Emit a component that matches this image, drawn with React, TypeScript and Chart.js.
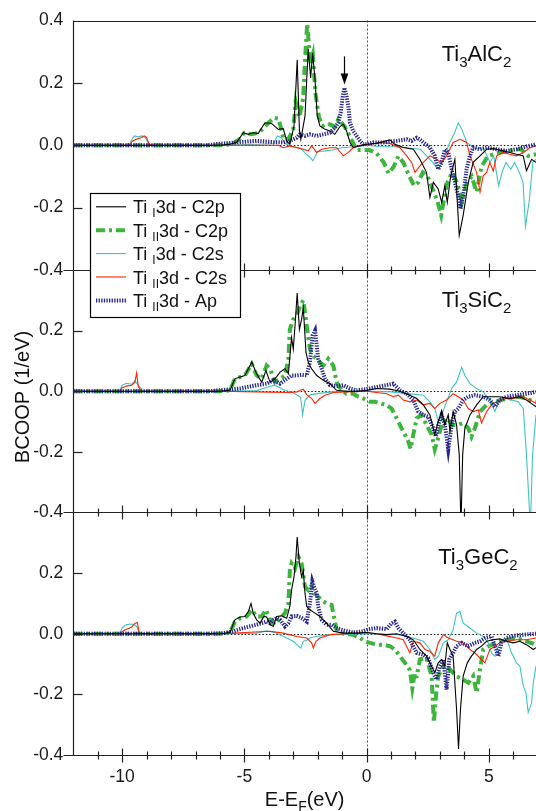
import React, { useEffect, useRef } from "react";
import { Chart, registerables } from "chart.js";

Chart.register(...registerables);

const FONT = '"Liberation Sans", Arial, Helvetica, sans-serif';

// ---------- axes ----------
const xMin = -12;
const xMax = 6.93;
const xTickValues = [-10, -5, 0, 5];
const xMinorTicks = [-11, -10, -9, -8, -7, -6, -5, -4, -3, -2, -1, 0, 1, 2, 3, 4, 5, 6];
const yTicksTop = [-0.4, -0.2, 0, 0.2, 0.4];
const yTicksLower = [-0.4, -0.2, 0, 0.2];
const yInnerTicks = [-0.2, 0, 0.2];

// ---------- series meta ----------
const seriesSub = ["I", "II", "I", "II", "II"];
const seriesTail = ["3d - C2p", "3d - C2p", "3d - C2s", "3d - C2s", "3d - Ap"];
const seriesColor = ["#000000", "#3cb53c", "#3fc4c4", "#ff2200", "#26268f"];
const seriesWidth = [1.1, 4, 1.1, 1.1, 4];
const seriesDash = [[], [9, 4, 3, 4], [], [], [1.3, 1.3]];
const seriesOrder = [0, 4, 3, 2, 1];

// ---------- panels ----------
const panelAxis = ["yAl", "ySi", "yGe"];
const panelWeight = [250, 243, 243];
const panelLabel = [
  ["Ti", "3", "AlC", "2"],
  ["Ti", "3", "SiC", "2"],
  ["Ti", "3", "GeC", "2"],
];
const panelLabelE = [3.07, 3.07, 2.93];
const panelLabelV = [0.27, 0.277, 0.23];
const arrowE = -0.93;
const arrowTopV = 0.285;
const arrowTipV = 0.195;

// ---------- Ti3AlC2 ----------
const alTiIC2p = [[-12,0],[-6,0],[-5.6,0.003],[-5.32,0.009],[-5.04,0.04],[-4.84,0.035],[-4.64,0.04],[-4.43,0.038],[-4.16,0.072],[-3.89,0.07],[-3.61,0.051],[-3.41,0.053],[-3.27,0.014],[-3.14,0.003],[-2.97,0.062],[-2.84,0.274],[-2.75,0.05],[-2.69,0.019],[-2.52,0.094],[-2.39,0.31],[-2.29,0.216],[-2.21,0.296],[-2.11,0.21],[-2.02,0.094],[-1.91,0.062],[-1.7,0.051],[-1.5,0.046],[-1.3,0.035],[-1.09,0.06],[-0.95,0.067],[-0.82,0.046],[-0.68,0.009],[-0.55,-0.007],[-0.27,-0.002],[0,0.003],[0.41,0.006],[0.95,0.017],[1.16,0.003],[1.5,-0.007],[1.91,-0.013],[2.18,-0.045],[2.45,-0.087],[2.59,-0.167],[2.73,-0.119],[2.93,-0.14],[3.07,-0.183],[3.2,-0.13],[3.3,-0.183],[3.44,-0.098],[3.61,-0.045],[3.79,-0.289],[3.95,-0.225],[4.16,-0.119],[4.36,-0.055],[4.64,-0.034],[4.91,-0.013],[5.18,-0.011],[5.59,-0.018],[5.86,-0.023],[6.13,-0.029],[6.41,-0.034],[6.54,-0.082],[6.75,-0.045],[6.93,-0.055]];
const alTiIIC2p = [[-12,0],[-6,0],[-5.5,0.003],[-5.2,0.02],[-5.0,0.04],[-4.7,0.035],[-4.4,0.04],[-4.1,0.065],[-3.8,0.088],[-3.6,0.085],[-3.4,0.02],[-3.2,0.02],[-3.0,0.05],[-2.9,0.14],[-2.75,0.09],[-2.6,0.15],[-2.5,0.3],[-2.43,0.39],[-2.3,0.26],[-2.2,0.29],[-2.1,0.17],[-1.95,0.09],[-1.8,0.062],[-1.6,0.07],[-1.3,0.06],[-1.15,0.085],[-0.9,0.06],[-0.6,0.015],[-0.4,-0.015],[-0.2,-0.015],[0.1,-0.015],[0.4,-0.025],[0.7,-0.055],[0.9,-0.09],[1.1,-0.07],[1.3,-0.035],[1.5,-0.055],[1.75,-0.1],[1.95,-0.13],[2.1,-0.12],[2.3,-0.087],[2.5,-0.1],[2.7,-0.14],[2.9,-0.18],[3.05,-0.225],[3.15,-0.18],[3.3,-0.12],[3.5,-0.088],[3.7,-0.12],[3.9,-0.18],[4.1,-0.12],[4.3,-0.1],[4.5,-0.15],[4.7,-0.07],[4.95,-0.035],[5.2,-0.029],[5.5,-0.023],[5.9,-0.017],[6.3,-0.012],[6.6,-0.034],[6.93,-0.029]];
const alTiIC2s = [[-12,0],[-9.7,0],[-9.6,0.02],[-9.5,0.03],[-9.35,0.027],[-9.2,0.03],[-9.05,0.025],[-8.9,0.002],[-8.7,0],[-6,0],[-4.5,0.003],[-3.8,0.005],[-3.65,0.03],[-3.5,0.025],[-3.3,0.003],[-3.0,-0.005],[-2.7,-0.01],[-2.45,-0.03],[-2.3,-0.04],[-2.2,-0.05],[-2.0,-0.02],[-1.7,-0.018],[-1.4,-0.015],[-1.0,-0.008],[-0.5,-0.005],[0,0],[0.5,-0.004],[1.2,-0.005],[2.2,-0.013],[2.7,-0.055],[2.93,-0.077],[3.1,-0.055],[3.4,0.009],[3.6,0.04],[3.75,0.072],[3.9,0.05],[4.1,0.008],[4.4,-0.008],[4.8,-0.013],[5.05,-0.055],[5.2,-0.034],[5.4,-0.13],[5.55,-0.085],[5.7,-0.055],[5.9,-0.077],[6.05,-0.055],[6.25,-0.087],[6.4,-0.119],[6.5,-0.26],[6.65,-0.18],[6.8,-0.055],[6.93,-0.045]];
const alTiIIC2s = [[-12,0],[-9.7,0],[-9.6,0.012],[-9.4,0.02],[-9.2,0.025],[-9.1,0.03],[-9.0,0.025],[-8.9,0.002],[-8.7,0],[-6,0],[-3.6,0],[-3.41,-0.008],[-3.14,-0.002],[-2.85,-0.008],[-2.59,-0.013],[-2.39,-0.018],[-2.25,-0.002],[-2.04,-0.023],[-1.84,-0.013],[-1.5,-0.008],[-1.23,-0.008],[-0.95,-0.034],[-0.75,-0.023],[-0.55,-0.008],[-0.27,0],[0.14,0.003],[0.55,0.009],[0.95,0.006],[1.36,-0.008],[1.64,-0.034],[1.84,-0.055],[1.98,-0.087],[2.18,-0.066],[2.32,-0.055],[2.59,-0.034],[2.86,-0.045],[3.07,-0.055],[3.27,-0.034],[3.54,0.009],[3.82,0.019],[4.09,0.009],[4.23,-0.034],[4.5,-0.087],[4.64,-0.15],[4.77,-0.098],[4.91,-0.087],[5.04,-0.055],[5.18,-0.082],[5.32,-0.034],[5.59,-0.023],[5.86,-0.029],[6.13,-0.034],[6.41,-0.023],[6.68,-0.008],[6.93,-0.002]];
const alTiIIAp = [[-12,0],[-6.5,0],[-6.13,0.004],[-5.18,0.01],[-4.5,0.014],[-3.82,0.01],[-3.41,0.009],[-3.14,0.014],[-2.86,0.024],[-2.73,0.035],[-2.52,0.03],[-2.32,0.035],[-2.04,0.03],[-1.77,0.035],[-1.5,0.04],[-1.3,0.056],[-1.16,0.072],[-1.06,0.104],[-0.98,0.157],[-0.91,0.184],[-0.82,0.157],[-0.75,0.126],[-0.68,0.072],[-0.55,0.046],[-0.41,0.03],[-0.27,0.014],[-0.14,0.003],[0,0.003],[0.27,0.009],[0.68,0.009],[1.23,0.014],[1.64,0.019],[1.84,0.014],[2.05,0.024],[2.18,0.019],[2.32,0.009],[2.59,-0.007],[2.79,-0.034],[2.93,-0.077],[3.07,-0.055],[3.2,-0.013],[3.34,-0.023],[3.48,-0.077],[3.61,-0.119],[3.75,-0.162],[3.84,-0.204],[3.95,-0.162],[4.09,-0.077],[4.23,-0.034],[4.36,-0.007],[4.64,-0.013],[4.91,-0.007],[5.32,-0.013],[5.73,-0.018],[6.13,-0.013],[6.54,-0.004],[6.93,0.003]];

// ---------- Ti3SiC2 ----------
const siTiIC2p = [[-12,0],[-6,0],[-5.59,0.003],[-5.39,0.041],[-5.18,0.047],[-4.98,0.052],[-4.7,0.096],[-4.5,0.058],[-4.29,0.03],[-4.12,0.068],[-3.95,0.03],[-3.75,0.041],[-3.54,0.063],[-3.34,0.074],[-3.2,0.058],[-3.07,0.177],[-3.0,0.139],[-2.93,0.215],[-2.84,0.324],[-2.75,0.204],[-2.66,0.237],[-2.59,0.275],[-2.48,0.128],[-2.39,0.096],[-2.25,0.074],[-2.04,0.052],[-1.77,0.036],[-1.5,0.025],[-1.23,0.003],[-0.82,0],[-0.41,0],[0,0.003],[0.41,0.009],[0.95,0.007],[1.36,0],[1.77,-0.013],[2.05,-0.024],[2.32,-0.045],[2.59,-0.078],[2.79,-0.143],[2.93,-0.1],[3.07,-0.067],[3.2,-0.111],[3.34,-0.078],[3.41,-0.133],[3.54,-0.067],[3.68,-0.111],[3.79,-0.209],[3.86,-0.45],[3.93,-0.209],[4.02,-0.122],[4.23,-0.078],[4.5,-0.045],[4.77,-0.018],[5.04,-0.018],[5.45,-0.018],[5.86,-0.024],[6.27,-0.018],[6.54,-0.029],[6.82,-0.045],[6.93,-0.051]];
const siTiIIC2p = [[-12,0],[-6,0],[-5.59,0.003],[-5.39,0.041],[-4.98,0.052],[-4.7,0.09],[-4.5,0.052],[-4.29,0.041],[-4.09,0.085],[-3.95,0.074],[-3.75,0.03],[-3.54,0.041],[-3.34,0.052],[-3.2,0.107],[-3.14,0.204],[-3.0,0.237],[-2.86,0.248],[-2.73,0.28],[-2.59,0.3],[-2.52,0.258],[-2.43,0.204],[-2.32,0.139],[-2.18,0.117],[-2.04,0.107],[-1.91,0.096],[-1.77,0.085],[-1.57,0.107],[-1.36,0.085],[-1.23,0.03],[-1.02,0.003],[-0.82,-0.008],[-0.55,-0.008],[-0.34,-0.018],[-0.14,-0.024],[0.14,-0.035],[0.34,-0.035],[0.55,-0.04],[0.82,-0.045],[1.02,-0.057],[1.23,-0.089],[1.43,-0.122],[1.57,-0.143],[1.7,-0.165],[1.8,-0.19],[1.91,-0.143],[2.05,-0.089],[2.25,-0.078],[2.45,-0.111],[2.66,-0.143],[2.79,-0.192],[2.93,-0.154],[3.07,-0.111],[3.27,-0.089],[3.54,-0.111],[3.75,-0.111],[3.95,-0.105],[4.16,-0.122],[4.29,-0.15],[4.43,-0.122],[4.64,-0.067],[4.91,-0.045],[5.18,-0.04],[5.45,-0.029],[5.86,-0.024],[6.27,-0.018],[6.68,-0.029],[6.93,-0.035]];
const siTiIC2s = [[-12,0],[-10.1,0],[-10.0,0.02],[-9.82,0.026],[-9.61,0.023],[-9.48,0.034],[-9.34,0.02],[-9.22,0.01],[-9.2,0],[-6,0],[-4.5,0.002],[-4.0,0.015],[-3.75,0.02],[-3.4,0.005],[-3.0,-0.005],[-2.7,-0.02],[-2.62,-0.078],[-2.52,-0.03],[-2.3,-0.012],[-2.0,-0.008],[-1.5,-0.003],[-1.0,0],[0,0],[1.0,-0.002],[2.32,-0.013],[2.59,-0.035],[2.79,-0.057],[2.93,-0.1],[3.07,-0.078],[3.27,-0.035],[3.48,0.009],[3.68,0.03],[3.89,0.079],[4.02,0.052],[4.23,0.025],[4.5,0.009],[4.77,-0.002],[5.04,-0.029],[5.25,-0.067],[5.39,-0.035],[5.66,-0.024],[5.93,-0.029],[6.2,-0.035],[6.41,-0.057],[6.54,-0.209],[6.7,-0.45],[6.79,-0.209],[6.93,-0.078]];
const siTiIIC2s = [[-12,0],[-10.1,0],[-10.0,0.012],[-9.82,0.017],[-9.61,0.02],[-9.48,0.03],[-9.41,0.06],[-9.34,0.015],[-9.2,0],[-6,0],[-4.0,-0.003],[-3.2,-0.004],[-2.84,-0.002],[-2.59,0.007],[-2.45,-0.011],[-2.25,-0.024],[-2.11,-0.04],[-1.91,-0.024],[-1.7,-0.013],[-1.36,-0.004],[-0.82,-0.002],[0,0],[0.41,-0.004],[0.82,-0.008],[1.09,-0.018],[1.3,-0.013],[1.5,-0.029],[1.77,-0.035],[2.05,-0.029],[2.32,-0.045],[2.59,-0.04],[2.79,-0.057],[3.0,-0.04],[3.27,-0.029],[3.54,-0.008],[3.75,-0.018],[3.95,-0.029],[4.16,-0.057],[4.36,-0.067],[4.57,-0.062],[4.7,-0.105],[4.91,-0.067],[5.11,-0.045],[5.32,-0.035],[5.66,-0.024],[6.0,-0.024],[6.41,-0.018],[6.68,-0.029],[6.93,-0.04]];
const siTiIIAp = [[-12,0],[-6.5,0],[-6.0,0.003],[-5.18,0.009],[-4.5,0.02],[-4.09,0.025],[-3.82,0.036],[-3.54,0.025],[-3.27,0.041],[-3.07,0.052],[-2.86,0.052],[-2.66,0.054],[-2.45,0.052],[-2.32,0.096],[-2.21,0.183],[-2.11,0.2],[-2.04,0.15],[-1.98,0.107],[-1.84,0.074],[-1.7,0.041],[-1.5,0.02],[-1.23,0.017],[-0.95,0.02],[-0.68,0.009],[-0.41,0.003],[0,0.007],[0.41,0.014],[0.82,0.02],[1.09,0.025],[1.36,0.003],[1.64,-0.008],[1.91,-0.029],[2.11,-0.067],[2.32,-0.078],[2.52,-0.084],[2.73,-0.122],[2.84,-0.149],[2.93,-0.111],[3.07,-0.078],[3.2,-0.111],[3.34,-0.192],[3.48,-0.111],[3.61,-0.067],[3.75,-0.057],[3.95,-0.029],[4.16,-0.018],[4.43,-0.013],[4.77,-0.018],[5.04,-0.029],[5.25,-0.051],[5.45,-0.029],[5.73,-0.018],[6.13,-0.013],[6.54,-0.008],[6.93,-0.002]];

// ---------- Ti3GeC2 ----------
const geTiIC2p = [[-12,0],[-6,0],[-5.59,0.004],[-5.39,0.046],[-5.18,0.055],[-4.98,0.057],[-4.84,0.073],[-4.73,0.1],[-4.64,0.068],[-4.5,0.046],[-4.36,0.035],[-4.2,0.057],[-4.09,0.055],[-3.95,0.03],[-3.82,0.024],[-3.68,0.057],[-3.48,0.059],[-3.27,0.051],[-3.14,0.09],[-3.07,0.144],[-2.97,0.188],[-2.89,0.254],[-2.84,0.319],[-2.75,0.232],[-2.66,0.188],[-2.59,0.208],[-2.52,0.133],[-2.45,0.09],[-2.32,0.079],[-2.11,0.068],[-1.91,0.057],[-1.64,0.035],[-1.36,0.008],[-0.95,0.002],[-0.41,0.002],[0,0.004],[0.41,0],[0.82,-0.003],[1.23,0],[1.64,-0.009],[1.91,-0.02],[2.18,-0.052],[2.45,-0.074],[2.66,-0.107],[2.79,-0.129],[2.93,-0.096],[3.07,-0.085],[3.2,-0.107],[3.3,-0.03],[3.41,-0.052],[3.54,-0.074],[3.68,-0.249],[3.76,-0.38],[3.84,-0.249],[3.95,-0.14],[4.12,-0.096],[4.29,-0.074],[4.5,-0.052],[4.7,-0.041],[4.91,-0.025],[5.18,-0.02],[5.45,-0.017],[5.73,-0.025],[6.0,-0.03],[6.27,-0.025],[6.54,-0.036],[6.82,-0.052],[6.93,-0.046]];
const geTiIIC2p = [[-12,0],[-6,0],[-5.59,0.004],[-5.39,0.04],[-5.18,0.051],[-4.91,0.057],[-4.7,0.079],[-4.5,0.057],[-4.29,0.057],[-4.12,0.079],[-3.95,0.046],[-3.75,0.03],[-3.54,0.051],[-3.34,0.068],[-3.2,0.1],[-3.14,0.208],[-3.07,0.232],[-2.93,0.215],[-2.79,0.254],[-2.66,0.232],[-2.52,0.155],[-2.39,0.144],[-2.29,0.155],[-2.15,0.133],[-1.98,0.122],[-1.84,0.111],[-1.64,0.1],[-1.43,0.095],[-1.34,0.057],[-1.23,0.013],[-0.95,0],[-0.55,-0.003],[-0.27,-0.014],[-0.07,-0.025],[0.14,-0.03],[0.41,-0.036],[0.68,-0.036],[0.95,-0.041],[1.16,-0.052],[1.36,-0.074],[1.57,-0.096],[1.77,-0.12],[1.87,-0.18],[1.95,-0.14],[2.05,-0.14],[2.18,-0.085],[2.45,-0.08],[2.66,-0.14],[2.75,-0.293],[2.84,-0.205],[2.93,-0.14],[3.14,-0.107],[3.41,-0.118],[3.68,-0.14],[3.95,-0.151],[4.16,-0.162],[4.36,-0.14],[4.5,-0.195],[4.64,-0.118],[4.77,-0.052],[4.98,-0.041],[5.32,-0.03],[5.73,-0.02],[6.13,-0.014],[6.54,-0.025],[6.93,-0.036]];
const geTiIC2s = [[-12,0],[-10.1,0],[-10.0,0.02],[-9.82,0.03],[-9.61,0.032],[-9.48,0.028],[-9.38,0.022],[-9.32,0.005],[-9.25,0],[-6,0],[-4.5,0.002],[-4.1,0.01],[-3.7,0.003],[-3.27,-0.014],[-3.0,-0.025],[-2.79,-0.041],[-2.69,-0.047],[-2.59,-0.025],[-2.45,-0.022],[-2.32,-0.014],[-2.11,-0.009],[-1.5,-0.003],[0,0],[1.5,-0.004],[2.32,-0.025],[2.59,-0.052],[2.79,-0.085],[2.93,-0.074],[3.14,-0.03],[3.34,-0.02],[3.54,0.013],[3.68,0.068],[3.82,0.073],[3.95,0.035],[4.23,0.019],[4.5,0.002],[4.77,-0.009],[4.98,-0.03],[5.11,-0.063],[5.25,-0.074],[5.39,-0.041],[5.59,-0.02],[5.79,-0.03],[5.93,-0.063],[6.13,-0.096],[6.27,-0.107],[6.41,-0.173],[6.52,-0.195],[6.61,-0.26],[6.75,-0.227],[6.82,-0.162],[6.93,-0.107]];
const geTiIIC2s = [[-12,0],[-10.1,0],[-9.95,0.01],[-9.61,0.022],[-9.48,0.034],[-9.38,0.037],[-9.3,0.002],[-9.2,0],[-6,0],[-3.95,0.008],[-3.41,0.002],[-2.86,-0.009],[-2.45,-0.014],[-2.25,-0.03],[-2.18,-0.047],[-2.07,-0.025],[-1.91,-0.014],[-1.5,-0.003],[-0.82,0],[0,0.004],[0.41,0],[0.82,-0.007],[1.23,-0.014],[1.5,-0.02],[1.77,-0.063],[1.91,-0.025],[2.18,-0.03],[2.39,-0.052],[2.59,-0.058],[2.79,-0.074],[2.93,-0.03],[3.14,-0.003],[3.34,-0.014],[3.54,-0.02],[3.68,-0.025],[3.95,-0.03],[4.23,-0.052],[4.43,-0.063],[4.64,-0.08],[4.84,-0.096],[5.04,-0.052],[5.25,-0.041],[5.45,-0.03],[5.73,-0.025],[6.13,-0.02],[6.54,-0.02],[6.93,-0.014]];
const geTiIIAp = [[-12,0],[-6.5,0],[-5.86,0.002],[-5.45,0.008],[-5.04,0.019],[-4.5,0.03],[-4.09,0.04],[-3.95,0.035],[-3.82,0.046],[-3.68,0.052],[-3.54,0.046],[-3.34,0.024],[-3.2,0.035],[-3.07,0.057],[-2.86,0.059],[-2.66,0.052],[-2.45,0.04],[-2.32,0.101],[-2.22,0.172],[-2.15,0.155],[-2.04,0.133],[-1.98,0.09],[-1.84,0.046],[-1.64,0.03],[-1.43,0.03],[-1.23,0.019],[-0.95,0.011],[-0.55,0.004],[-0.14,0.008],[0.07,0.015],[0.41,0.019],[0.82,0.015],[1.02,0.035],[1.16,0.04],[1.3,0.019],[1.5,0.002],[1.77,-0.02],[2.05,-0.063],[2.32,-0.069],[2.52,-0.08],[2.73,-0.13],[2.86,-0.15],[3.0,-0.107],[3.14,-0.085],[3.27,-0.184],[3.38,-0.085],[3.54,-0.063],[3.68,-0.041],[3.89,-0.03],[4.16,-0.041],[4.43,-0.03],[4.64,-0.025],[4.84,-0.014],[5.11,-0.009],[5.25,-0.041],[5.39,-0.074],[5.52,-0.03],[5.73,-0.014],[6.0,-0.007],[6.41,-0.003],[6.93,0]];

const panelSeries = [
  [alTiIC2p, alTiIIC2p, alTiIC2s, alTiIIC2s, alTiIIAp],
  [siTiIC2p, siTiIIC2p, siTiIC2s, siTiIIC2s, siTiIIAp],
  [geTiIC2p, geTiIIC2p, geTiIC2s, geTiIIC2s, geTiIIAp],
];

function drawRich(ctx: any, parts: string[], x: number, y: number, size: number, subSize: number, subDrop: number, align: string) {
  const widths = parts.map((t, i) => {
    ctx.font = `${i % 2 === 1 ? subSize : size}px ${FONT}`;
    return ctx.measureText(t).width;
  });
  const total = widths.reduce((a, b) => a + b, 0);
  let cx = align === "center" ? x - total / 2 : x;
  parts.forEach((t, i) => {
    const sub = i % 2 === 1;
    ctx.font = `${sub ? subSize : size}px ${FONT}`;
    ctx.fillText(t, cx, sub ? y + subDrop : y);
    cx += widths[i];
  });
}

const decorPlugin = {
  id: "decor",
  beforeDatasetsDraw(chart: any) {
    const { ctx, chartArea: a, scales } = chart;
    ctx.save();
    ctx.strokeStyle = "#111";
    ctx.lineWidth = 1;
    ctx.setLineDash([1.5, 2]);
    for (const id of panelAxis) {
      const y = Math.round(scales[id].getPixelForValue(0)) + 0.5;
      ctx.beginPath();
      ctx.moveTo(a.left, y);
      ctx.lineTo(a.right, y);
      ctx.stroke();
    }
    const x0 = Math.round(scales.x.getPixelForValue(0)) + 0.5;
    ctx.strokeStyle = "#555";
    ctx.setLineDash([2, 2]);
    ctx.beginPath();
    ctx.moveTo(x0, a.top);
    ctx.lineTo(x0, a.bottom);
    ctx.stroke();
    ctx.restore();
  },
  beforeDatasetDraw(chart: any, args: any) {
    const ys = chart.scales[args.meta.yAxisID];
    const a = chart.chartArea;
    const ctx = chart.ctx;
    ctx.save();
    ctx.beginPath();
    ctx.rect(a.left, ys.top, a.right - a.left, ys.bottom - ys.top);
    ctx.clip();
  },
  afterDatasetDraw(chart: any) {
    chart.ctx.restore();
  },
  afterDatasetsDraw(chart: any) {
    const { ctx, chartArea: a, scales } = chart;
    const xs = scales.x;
    const L = Math.round(a.left) + 0.5;
    ctx.save();
    ctx.setLineDash([]);
    ctx.strokeStyle = "#222";
    ctx.lineWidth = 1.2;
    // frame
    ctx.beginPath();
    ctx.moveTo(L, a.top);
    ctx.lineTo(L, a.bottom);
    ctx.moveTo(L, Math.round(a.top) + 0.5);
    ctx.lineTo(a.right, Math.round(a.top) + 0.5);
    ctx.stroke();
    panelAxis.forEach((id) => {
      const ys = scales[id];
      const yb = Math.round(ys.bottom) + 0.5;
      ctx.beginPath();
      ctx.moveTo(L - 10, yb);
      ctx.lineTo(a.right, yb);
      ctx.stroke();
      // y ticks inward
      yInnerTicks.forEach((v) => {
        const y = Math.round(ys.getPixelForValue(v)) + 0.5;
        ctx.beginPath();
        ctx.moveTo(L, y);
        ctx.lineTo(L + 9, y);
        ctx.stroke();
      });
      // x ticks on the lower border of each panel
      xMinorTicks.forEach((e) => {
        const x = Math.round(xs.getPixelForValue(e)) + 0.5;
        const len = xTickValues.includes(e) ? 7 : 4;
        ctx.beginPath();
        ctx.moveTo(x, yb - len);
        ctx.lineTo(x, yb + len);
        ctx.stroke();
      });
    });

    // panel labels
    ctx.fillStyle = "#111";
    ctx.textBaseline = "alphabetic";
    ctx.textAlign = "left";
    panelAxis.forEach((id, p) => {
      const ys = scales[id];
      drawRich(ctx, panelLabel[p], xs.getPixelForValue(panelLabelE[p]), ys.getPixelForValue(panelLabelV[p]), 22, 15, 6, "left");
    });

    // arrow
    {
      const ys = scales[panelAxis[0]];
      const x = Math.round(xs.getPixelForValue(arrowE)) + 0.5;
      const yt = ys.getPixelForValue(arrowTopV);
      const yp = ys.getPixelForValue(arrowTipV);
      ctx.strokeStyle = "#000";
      ctx.lineWidth = 1.2;
      ctx.beginPath();
      ctx.moveTo(x, yt);
      ctx.lineTo(x, yp - 8);
      ctx.stroke();
      ctx.fillStyle = "#000";
      ctx.beginPath();
      ctx.moveTo(x - 3.8, yp - 11);
      ctx.lineTo(x + 3.8, yp - 11);
      ctx.lineTo(x, yp);
      ctx.closePath();
      ctx.fill();
    }

    // legend
    const lx = 90.5, ly = 193.5, lw = 150, lh = 124;
    ctx.fillStyle = "#fff";
    ctx.fillRect(lx, ly, lw, lh);
    ctx.strokeStyle = "#000";
    ctx.lineWidth = 1.2;
    ctx.strokeRect(lx, ly, lw, lh);
    seriesTail.forEach((tail, i) => {
      const cy = 206.8 + i * 23.4;
      ctx.save();
      ctx.strokeStyle = seriesColor[i];
      ctx.lineWidth = seriesWidth[i];
      ctx.setLineDash(seriesDash[i]);
      ctx.beginPath();
      ctx.moveTo(96, cy);
      ctx.lineTo(126, cy);
      ctx.stroke();
      ctx.restore();
      ctx.fillStyle = "#111";
      drawRich(ctx, ["Ti ", seriesSub[i], tail], 133, cy + 6.5, 18, 12, 4, "left");
    });

    // axis titles
    ctx.fillStyle = "#111";
    drawRich(ctx, ["E-E", "F", "(eV)"], (a.left + a.right) / 2, 806, 20, 14, 5, "center");
    ctx.save();
    ctx.translate(29, 397);
    ctx.rotate(-Math.PI / 2);
    ctx.font = `20px ${FONT}`;
    ctx.textAlign = "center";
    ctx.fillText("BCOOP (1/eV)", 0, 0);
    ctx.restore();

    ctx.restore();
  },
};

export default function App() {
  const ref = useRef<HTMLCanvasElement | null>(null);

  useEffect(() => {
    if (!ref.current) return;
    const datasets: any[] = [];
    panelSeries.forEach((series, p) => {
      series.forEach((pts, s) => {
        datasets.push({
          label: `Ti ${seriesSub[s]}${seriesTail[s]}`,
          data: pts.map(([x, y]) => ({ x, y })),
          xAxisID: "x",
          yAxisID: panelAxis[p],
          borderColor: seriesColor[s],
          backgroundColor: seriesColor[s],
          borderWidth: seriesWidth[s],
          borderDash: seriesDash[s],
          pointRadius: 0,
          tension: 0,
          fill: false,
          order: seriesOrder[s],
        });
      });
    });

    const scales: any = {
      x: {
        type: "linear",
        position: "bottom",
        min: xMin,
        max: xMax,
        afterBuildTicks: (sc: any) => {
          sc.ticks = xTickValues.map((v) => ({ value: v }));
        },
        afterFit: (sc: any) => {
          sc.height = 56;
        },
        grid: { display: false, drawTicks: false },
        border: { display: false },
        ticks: {
          padding: 12,
          autoSkip: false,
          maxRotation: 0,
          color: "#1a1a1a",
          font: { family: FONT, size: 17.5 },
          callback: (v: any) => String(v),
        },
      },
    };
    // lower panels first: Chart.js stacks left axes from the last one defined downward
    for (let p = panelAxis.length - 1; p >= 0; p--) {
      const tv = p === 0 ? yTicksTop : yTicksLower;
      scales[panelAxis[p]] = {
        type: "linear",
        position: "left",
        stack: "panels",
        stackWeight: panelWeight[p],
        offset: false,
        min: -0.4,
        max: 0.4,
        afterBuildTicks: (sc: any) => {
          sc.ticks = tv.map((v) => ({ value: v }));
        },
        afterFit: (sc: any) => {
          sc.width = 73.3;
        },
        grid: { display: false, drawTicks: false },
        border: { display: false },
        ticks: {
          padding: 10,
          autoSkip: false,
          color: "#1a1a1a",
          font: { family: FONT, size: 17.5 },
          callback: (v: any) => Number(v).toFixed(1),
        },
      };
    }

    const chart = new Chart(ref.current, {
      type: "line",
      data: { datasets },
      options: {
        responsive: false,
        animation: false,
        devicePixelRatio: 1,
        layout: { padding: { top: 19, right: 0, bottom: 0, left: 0 } },
        plugins: { legend: { display: false }, tooltip: { enabled: false } },
        scales,
      },
      plugins: [decorPlugin],
    } as any);
    return () => chart.destroy();
  }, []);

  return (
    <div style={{ position: "absolute", left: 0, top: 0, width: 536, height: 811, background: "#fff" }}>
      <canvas ref={ref} width={536} height={811} style={{ display: "block", width: 536, height: 811 }} />
    </div>
  );
}
